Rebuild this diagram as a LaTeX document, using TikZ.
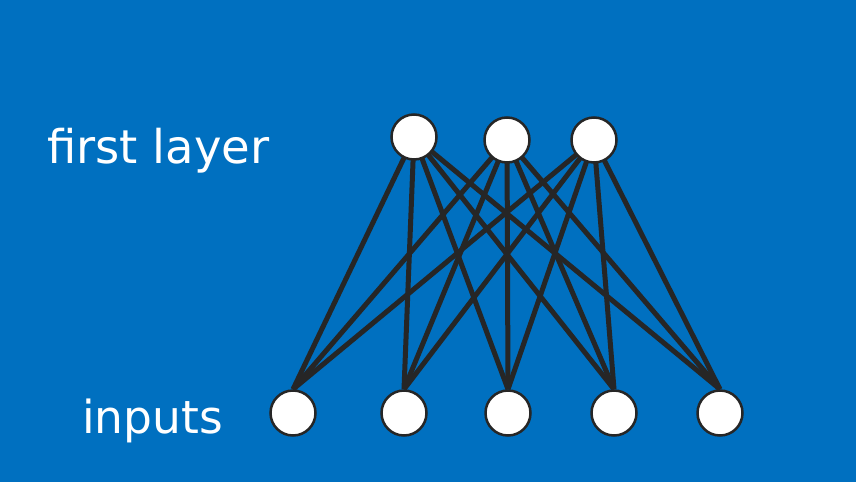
\documentclass[tikz,border=0pt]{standalone}
\usepackage{fontspec}
\setmainfont{DejaVu Sans}
\definecolor{bgblue}{HTML}{0070C0}
\definecolor{darkline}{HTML}{262626}
\pgfdeclarelayer{bglayer}
\pgfdeclarelayer{edgelayer}
\pgfsetlayers{bglayer,edgelayer,main}
\begin{document}
\begin{tikzpicture}[x=1pt,y=-1pt,
  neuron/.style={circle,draw=darkline,fill=white,line width=2.5pt,minimum size=45pt,inner sep=0pt},
  conn/.style={draw=darkline,line width=5pt},
  lbl/.style={text=white,anchor=base west,inner sep=0pt}]
\begin{pgfonlayer}{bglayer}
\fill[bgblue] (0,0) rectangle (856,482);
\end{pgfonlayer}
\useasboundingbox (0,0) rectangle (856,482);
\node[neuron] (t1) at (414,137) {};
\node[neuron] (t2) at (507,140) {};
\node[neuron] (t3) at (594,140) {};
\node[neuron] (b1) at (293,413) {};
\node[neuron] (b2) at (404,413) {};
\node[neuron] (b3) at (508,413) {};
\node[neuron] (b4) at (614,413) {};
\node[neuron] (b5) at (720,413) {};
\begin{pgfonlayer}{edgelayer}
\foreach \t in {t1,t2,t3}
  \foreach \b in {b1,b2,b3,b4,b5}
    \draw[conn] (\t.center) -- (\b.north);
\end{pgfonlayer}
\node[lbl,font=\fontsize{46.5}{50}\selectfont] (l1) at (47,163) {first layer};
\node[lbl,font=\fontsize{45.5}{50}\selectfont] (l2) at (82,433) {inputs};
\end{tikzpicture}
\end{document}
